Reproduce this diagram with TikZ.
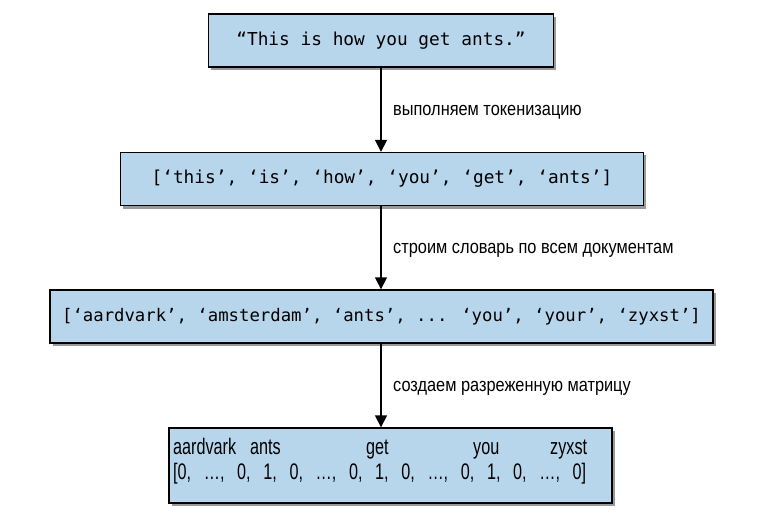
\documentclass[tikz,border=0pt]{standalone}
\usepackage{fontspec}
\setmainfont{Liberation Sans}
\newfontfamily\boxfont{DejaVu Sans Mono}
\newfontfamily\stepfont{Liberation Sans}[FakeStretch=0.86]
\newfontfamily\vecfont{Liberation Sans}[FakeStretch=0.72]
\usepackage{tikz}
\usetikzlibrary{positioning,arrows.meta,shadows}
\definecolor{boxblue}{RGB}{183,214,235}

\begin{document}
\begin{tikzpicture}[x=1pt,y=-1pt,
    stage/.style={draw=black,line width=1.4pt,fill=boxblue,inner sep=0pt,minimum height=53pt,
      drop shadow={shadow xshift=2.5pt,shadow yshift=-3pt,opacity=0.4,fill=black},
      font=\boxfont\fontsize{17.8}{20}\selectfont},
    flow/.style={line width=1.6pt,-{Triangle[width=12pt,length=12pt]}},
    steplabel/.style={anchor=west,inner sep=0pt,font=\stepfont\fontsize{19}{22}\selectfont},
    word/.style={anchor=base west,inner sep=0pt,font=\vecfont\fontsize{22.5}{24}\selectfont}]
\useasboundingbox (0,0) rectangle (773,513);

% Stages of the pipeline
\node[stage,minimum width=345pt] (doc) at (381,40.5) {“This is how you get ants.”};
\node[stage,minimum width=523pt] (tokens) at (382,179) {[‘this’, ‘is’, ‘how’, ‘you’, ‘get’, ‘ants’]};
\node[stage,minimum width=663pt,font=\boxfont\fontsize{17.3}{20}\selectfont] (vocab) at (381.5,316.5) {[‘aardvark’, ‘amsterdam’, ‘ants’, ... ‘you’, ‘your’, ‘zyxst’]};
\node[stage,minimum width=443pt,minimum height=75pt] (sparse) at (390.5,465.5) {};

% Words above the vector
\foreach \x/\w in {173/aardvark,250/ants,366/get,473/you,550/zyxst} {
    \node[word] (w\w) at (\x,454) {\w};
}
\node[word] (vec) at (173,479) {\makebox[413pt][s]{[0, …, 0, 1, 0, …, 0, 1, 0, …, 0, 1, 0, …, 0]}};

% Arrows with labels
\draw[flow] (doc.south) -- (tokens.north -| doc.south);
\draw[flow] (tokens.south -| doc.south) -- (vocab.north -| doc.south);
\draw[flow] (vocab.south -| doc.south) -- (sparse.north -| doc.south);

\node[steplabel] (tok) at (393,112) {выполняем токенизацию};
\node[steplabel] (dict) at (393,250) {строим словарь по всем документам};
\node[steplabel] (mat) at (393,388) {создаем разреженную матрицу};

\end{tikzpicture}
\end{document}
